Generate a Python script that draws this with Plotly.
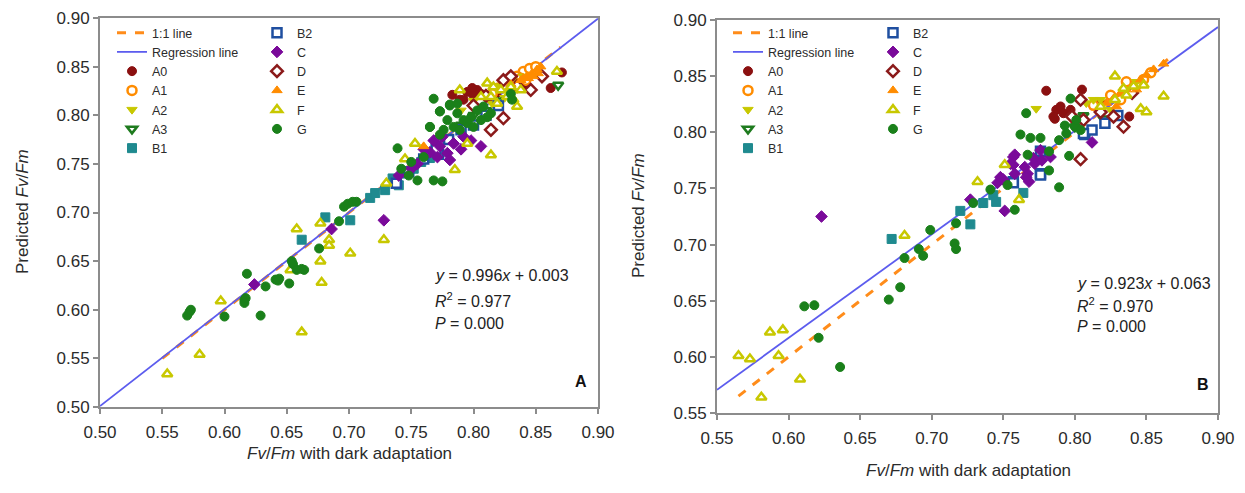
import plotly.graph_objects as go

# ---------------- panel A data (x = Fv/Fm dark adapted, y = predicted) ----------------
a_A0 = [(0.871, 0.844), (0.862, 0.828), (0.803, 0.826), (0.795, 0.824), (0.789, 0.816),
        (0.792, 0.816), (0.799, 0.828), (0.806, 0.822), (0.812, 0.818), (0.818, 0.822),
        (0.783, 0.821), (0.800, 0.820), (0.840, 0.830)]
a_A1 = [(0.840, 0.845), (0.835, 0.840), (0.845, 0.848), (0.830, 0.835), (0.825, 0.830),
        (0.850, 0.850), (0.838, 0.838), (0.820, 0.828), (0.842, 0.836), (0.815, 0.822)]
a_A2 = [(0.820, 0.830), (0.810, 0.820), (0.830, 0.825), (0.790, 0.805), (0.800, 0.815),
        (0.835, 0.835), (0.815, 0.812), (0.840, 0.840), (0.825, 0.818), (0.805, 0.808)]
a_A3 = [(0.868, 0.831), (0.800, 0.800), (0.820, 0.815), (0.790, 0.790), (0.810, 0.805)]
a_B1 = [(0.662, 0.672), (0.681, 0.695), (0.701, 0.692), (0.717, 0.715), (0.721, 0.720),
        (0.729, 0.723), (0.735, 0.735), (0.745, 0.740), (0.752, 0.745), (0.758, 0.752),
        (0.765, 0.756), (0.740, 0.728)]
a_B2 = [(0.748, 0.742), (0.760, 0.755), (0.772, 0.760), (0.780, 0.775), (0.790, 0.785),
        (0.800, 0.790), (0.810, 0.800), (0.820, 0.810), (0.770, 0.765), (0.738, 0.730)]
a_C = [(0.624, 0.626), (0.686, 0.683), (0.728, 0.692), (0.740, 0.738), (0.750, 0.745),
       (0.755, 0.750), (0.768, 0.774), (0.773, 0.768), (0.779, 0.761), (0.784, 0.771),
       (0.792, 0.778), (0.798, 0.774), (0.806, 0.768), (0.771, 0.757), (0.765, 0.762),
       (0.781, 0.754), (0.760, 0.765), (0.790, 0.765), (0.775, 0.778)]
a_D = [(0.814, 0.785), (0.824, 0.797), (0.846, 0.826), (0.824, 0.836), (0.810, 0.820),
       (0.835, 0.830), (0.830, 0.840), (0.800, 0.810), (0.855, 0.840)]
a_E = [(0.854, 0.850), (0.851, 0.847), (0.847, 0.843), (0.843, 0.840), (0.840, 0.838),
       (0.838, 0.836), (0.852, 0.843), (0.848, 0.840), (0.844, 0.838), (0.830, 0.832),
       (0.760, 0.768)]
a_F = [(0.554, 0.534), (0.580, 0.554), (0.597, 0.609), (0.653, 0.641), (0.662, 0.577),
       (0.658, 0.683), (0.677, 0.650), (0.678, 0.628), (0.677, 0.689), (0.684, 0.672),
       (0.684, 0.666), (0.701, 0.658), (0.728, 0.672), (0.785, 0.744), (0.814, 0.759),
       (0.795, 0.771), (0.753, 0.771), (0.811, 0.833), (0.816, 0.829), (0.822, 0.826),
       (0.827, 0.819), (0.832, 0.816), (0.835, 0.809), (0.819, 0.812), (0.814, 0.819),
       (0.830, 0.829), (0.838, 0.826), (0.806, 0.819), (0.867, 0.845), (0.730, 0.730),
       (0.745, 0.755), (0.789, 0.826)]
a_G = [(0.570, 0.594), (0.572, 0.598), (0.573, 0.600), (0.600, 0.593), (0.616, 0.610),
       (0.616, 0.607), (0.617, 0.612), (0.618, 0.637), (0.629, 0.594), (0.633, 0.624),
       (0.641, 0.631), (0.644, 0.632), (0.643, 0.630), (0.652, 0.627), (0.654, 0.650),
       (0.655, 0.647), (0.658, 0.641), (0.662, 0.642), (0.664, 0.641), (0.676, 0.663),
       (0.692, 0.691), (0.696, 0.706), (0.699, 0.709), (0.703, 0.711), (0.706, 0.711),
       (0.739, 0.766), (0.760, 0.757), (0.765, 0.788), (0.773, 0.804), (0.781, 0.811),
       (0.768, 0.733), (0.775, 0.732), (0.755, 0.733), (0.768, 0.817), (0.773, 0.804),
       (0.781, 0.810), (0.787, 0.802), (0.792, 0.795), (0.798, 0.798), (0.803, 0.805),
       (0.808, 0.809), (0.811, 0.798), (0.779, 0.795), (0.784, 0.788), (0.789, 0.785),
       (0.795, 0.792), (0.776, 0.785), (0.773, 0.780), (0.765, 0.788), (0.787, 0.812),
       (0.800, 0.788), (0.806, 0.795), (0.814, 0.802), (0.830, 0.822), (0.831, 0.816),
       (0.742, 0.745), (0.748, 0.738), (0.750, 0.752)]

# ---------------- panel B data ----------------
b_A0 = [(0.780, 0.837), (0.787, 0.820), (0.790, 0.823), (0.792, 0.817), (0.786, 0.812),
        (0.805, 0.838), (0.797, 0.820), (0.838, 0.814), (0.818, 0.826), (0.785, 0.814)]
b_A1 = [(0.848, 0.847), (0.839, 0.836), (0.832, 0.829), (0.853, 0.853), (0.825, 0.833),
        (0.813, 0.824), (0.843, 0.842), (0.836, 0.845)]
b_A2 = [(0.773, 0.821), (0.818, 0.829), (0.808, 0.826), (0.843, 0.845), (0.825, 0.820),
        (0.813, 0.829), (0.835, 0.838)]
b_A3 = [(0.806, 0.815), (0.820, 0.812), (0.800, 0.805)]
b_B1 = [(0.672, 0.705), (0.720, 0.730), (0.727, 0.718), (0.736, 0.737), (0.743, 0.744),
        (0.764, 0.746), (0.745, 0.738)]
b_B2 = [(0.757, 0.756), (0.807, 0.798), (0.812, 0.802), (0.821, 0.808), (0.776, 0.763),
        (0.757, 0.755), (0.776, 0.783), (0.806, 0.799), (0.776, 0.762), (0.830, 0.815)]
b_C = [(0.623, 0.725), (0.727, 0.740), (0.751, 0.730), (0.746, 0.755), (0.750, 0.758),
       (0.757, 0.771), (0.767, 0.763), (0.768, 0.756), (0.758, 0.780), (0.812, 0.791),
       (0.757, 0.778), (0.755, 0.772), (0.765, 0.769), (0.772, 0.772), (0.777, 0.775),
       (0.783, 0.778), (0.776, 0.784), (0.766, 0.760), (0.758, 0.763), (0.748, 0.760),
       (0.771, 0.777)]
b_D = [(0.804, 0.829), (0.834, 0.805), (0.804, 0.776), (0.798, 0.814), (0.818, 0.818),
       (0.827, 0.814), (0.840, 0.835), (0.806, 0.811)]
b_E = [(0.855, 0.856), (0.850, 0.851), (0.846, 0.847), (0.841, 0.842), (0.836, 0.838),
       (0.832, 0.835), (0.827, 0.830), (0.822, 0.826), (0.829, 0.823), (0.843, 0.838),
       (0.862, 0.861)]
b_F = [(0.565, 0.601), (0.573, 0.598), (0.581, 0.564), (0.587, 0.622), (0.596, 0.624),
       (0.593, 0.601), (0.608, 0.580), (0.681, 0.708), (0.732, 0.756), (0.751, 0.771),
       (0.761, 0.740), (0.828, 0.850), (0.862, 0.832), (0.846, 0.821), (0.850, 0.818),
       (0.828, 0.829), (0.836, 0.833), (0.841, 0.841), (0.848, 0.842), (0.834, 0.839),
       (0.818, 0.823)]
b_G = [(0.611, 0.645), (0.618, 0.646), (0.621, 0.617), (0.636, 0.591), (0.670, 0.651),
       (0.678, 0.662), (0.681, 0.688), (0.691, 0.696), (0.694, 0.690), (0.699, 0.713),
       (0.717, 0.719), (0.716, 0.701), (0.717, 0.696), (0.729, 0.737), (0.741, 0.749),
       (0.753, 0.753), (0.758, 0.731), (0.767, 0.780), (0.766, 0.817), (0.797, 0.830),
       (0.762, 0.798), (0.769, 0.795), (0.776, 0.795), (0.789, 0.793), (0.794, 0.799),
       (0.800, 0.805), (0.804, 0.802), (0.793, 0.806), (0.801, 0.811), (0.796, 0.779),
       (0.789, 0.751), (0.782, 0.783), (0.782, 0.766)]

groups = ["A0", "A1", "A2", "A3", "B1", "B2", "C", "D", "E", "F", "G"]
panel_a = [a_A0, a_A1, a_A2, a_A3, a_B1, a_B2, a_C, a_D, a_E, a_F, a_G]
panel_b = [b_A0, b_A1, b_A2, b_A3, b_B1, b_B2, b_C, b_D, b_E, b_F, b_G]

# regression fits and 1:1 line extents
reg_a = (0.996, 0.003)
reg_b = (0.923, 0.063)
reg_x_a = [0.50, 0.90]
reg_x_b = [0.55, 0.90]
one_x_a = [0.55, 0.87]
one_x_b = [0.565, 0.865]

# marker style per group: symbol, fill, outline
styles = {
    "A0": ("circle", "#8b1010", "#8b1010"),
    "A1": ("circle", "white", "#ff8c00"),
    "A2": ("triangle-down", "#c8c800", "#c8c800"),
    "A3": ("triangle-down", "white", "#1e7b1e"),
    "B1": ("square", "#1f8a8f", "#1f8a8f"),
    "B2": ("square", "white", "#1f4fa0"),
    "C": ("diamond", "#7a0a9a", "#7a0a9a"),
    "D": ("diamond", "white", "#8b1a1a"),
    "E": ("triangle-up", "#ff8c00", "#ff8c00"),
    "F": ("triangle-up", "white", "#c8c800"),
    "G": ("circle", "#1a801a", "#1a801a"),
}

ORANGE = "#ff8c1a"
BLUE = "#5c5cee"
TXT = "#2b2b2b"
FONT = "Liberation Sans, Arial"

fig = go.Figure()


def add_panel(data, reg, reg_x, one_x, xa, ya, leg1, leg2):
    fig.add_trace(go.Scatter(x=one_x, y=one_x, mode="lines", name="1:1 line",
                             line=dict(color=ORANGE, width=3, dash="dash"),
                             xaxis=xa, yaxis=ya, legend=leg1))
    ry = [reg[0] * v + reg[1] for v in reg_x]
    fig.add_trace(go.Scatter(x=reg_x, y=ry, mode="lines", name="Regression line",
                             line=dict(color=BLUE, width=1.8),
                             xaxis=xa, yaxis=ya, legend=leg1))
    for g, pts in zip(groups, data):
        sym, fill, edge = styles[g]
        lw = 1 if fill != "white" else 2.5
        fig.add_trace(go.Scatter(
            x=[p[0] for p in pts], y=[p[1] for p in pts], mode="markers", name=g,
            marker=dict(symbol=sym, size=9, color=fill, line=dict(color=edge, width=lw)),
            xaxis=xa, yaxis=ya,
            legend=leg1 if g in ("A0", "A1", "A2", "A3", "B1") else leg2))


add_panel(panel_a, reg_a, reg_x_a, one_x_a, "x", "y", "legend", "legend2")
add_panel(panel_b, reg_b, reg_x_b, one_x_b, "x2", "y2", "legend3", "legend4")

W, H = 1245, 493
OFF = 8  # page body margin around the figure


def px_x(p):
    return (p - OFF) / W


def px_y(p):
    return (H - (p - OFF)) / H


axis_common = dict(showgrid=False, zeroline=False, showline=True, linecolor="#8c8c8c",
                   linewidth=2, mirror=True, ticks="outside", ticklen=5, tickcolor="#8c8c8c",
                   tickwidth=1.5, dtick=0.05, tickformat=".2f", automargin=False,
                   tickfont=dict(size=17, color=TXT, family=FONT))

leg_common = dict(bgcolor="rgba(0,0,0,0)", font=dict(size=12.5, color=TXT, family=FONT),
                  xanchor="left", yanchor="top", tracegroupgap=0, itemwidth=30)

fig.update_layout(
    width=W, height=H, margin=dict(l=0, r=0, t=0, b=0, autoexpand=False),
    paper_bgcolor="white", plot_bgcolor="white",
    font=dict(family=FONT, color=TXT),
    xaxis=dict(axis_common, domain=[px_x(100), px_x(598)], range=[0.5, 0.9], anchor="y",
               ticklabelstandoff=4),
    yaxis=dict(axis_common, domain=[px_y(407), px_y(18)], range=[0.5, 0.9], anchor="x"),
    xaxis2=dict(axis_common, domain=[px_x(717), px_x(1218)], range=[0.55, 0.9], anchor="y2",
                ticklabelstandoff=4),
    yaxis2=dict(axis_common, domain=[px_y(413), px_y(20)], range=[0.55, 0.9], anchor="x2"),
    legend=dict(leg_common, x=px_x(112), y=px_y(18)),
    legend2=dict(leg_common, x=px_x(257), y=px_y(18)),
    legend3=dict(leg_common, x=px_x(728), y=px_y(18)),
    legend4=dict(leg_common, x=px_x(873), y=px_y(18)),
    showlegend=True,
)

ann = []
ttl = dict(size=17, color=TXT, family=FONT)
for cx, cy in [(22, 212), (638, 216)]:
    ann.append(dict(text="Predicted <i>Fv</i>/<i>Fm</i>", x=px_x(cx), y=px_y(cy), xref="paper",
                    yref="paper", xanchor="center", yanchor="middle", showarrow=False,
                    textangle=-90, font=ttl))
for cx, cy in [(349, 453), (968, 470)]:
    ann.append(dict(text="<i>Fv</i>/<i>Fm</i> with dark adaptation", x=px_x(cx), y=px_y(cy),
                    xref="paper", yref="paper", xanchor="center", yanchor="middle",
                    showarrow=False, font=ttl))

eq = dict(size=16, color="#222222", family=FONT)
for (x0, ys), (k, b), r2 in [((433, (275, 300, 323)), reg_a, "0.977"),
                             ((1075, (283, 305, 327)), reg_b, "0.970")]:
    lines = ["<i>y</i> = %.3f<i>x</i> + %.3f" % (k, b),
             "<i>R</i><sup>2</sup> = " + r2,
             "<i>P</i> = 0.000"]
    for t, yy in zip(lines, ys):
        ann.append(dict(text=t, x=px_x(x0), y=px_y(yy), xref="paper", yref="paper",
                        xanchor="left", yanchor="middle", showarrow=False, font=eq))

for lab, cx, cy in [("A", 581, 381), ("B", 1203, 384)]:
    ann.append(dict(text="<b>%s</b>" % lab, x=px_x(cx), y=px_y(cy), xref="paper", yref="paper",
                    xanchor="center", yanchor="middle", showarrow=False,
                    font=dict(size=16, color="#111111", family=FONT)))

fig.update_layout(annotations=ann)

fig.write_html("out.html")
